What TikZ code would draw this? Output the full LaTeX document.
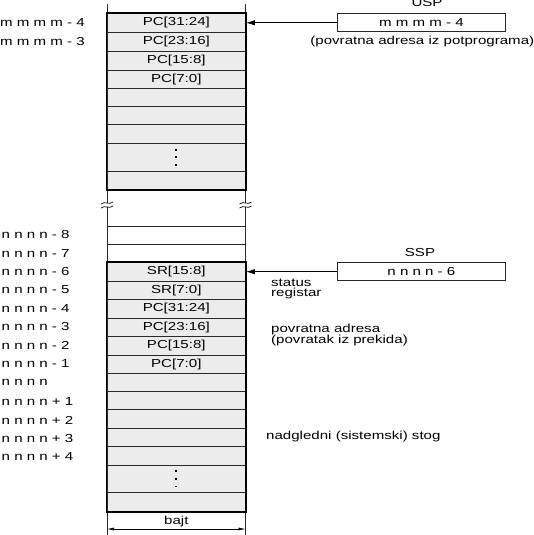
\documentclass[tikz,border=0pt]{standalone}
\usepackage{fontspec}
\setmainfont{Liberation Sans}[FakeStretch=1.3]
\usetikzlibrary{arrows.meta}
\definecolor{cellgray}{RGB}{236,236,236}
\definecolor{linegray}{RGB}{40,40,40}
\tikzset{
  cell/.style={draw=linegray, fill=cellgray, line width=0.7pt, minimum width=138.6pt, inner sep=0pt, anchor=north},
  opencell/.style={draw=linegray, line width=0.6pt, minimum width=138.6pt, inner sep=0pt, anchor=north},
  stackborder/.style={draw=black, line width=1.6pt},
  guide/.style={draw=linegray, line width=0.8pt},
  regbox/.style={draw=linegray, line width=1pt, minimum width=168.7pt, minimum height=17.7pt, inner sep=0pt},
  lbl/.style={inner sep=0pt, anchor=west},
  txt/.style={inner sep=0pt},
  ptr/.style={draw=black, line width=0.8pt, -{Latex[length=9pt,width=5.5pt]}},
  dim/.style={draw=black, line width=0.6pt, {Latex[length=7pt,width=3pt]}-{Latex[length=7pt,width=3pt]}},
  dotmark/.style={fill=black, draw=none}
}
\usetikzlibrary{calc}
\newcommand{\cellnode}[5]{\node[#1, minimum height={#4pt-#3pt}] (#2) at (176.3,#3) {#5};}
\newcommand{\vdotsat}[1]{%
  \fill[dotmark] ($(#1.center)+(-0.9,-8.5)$) rectangle ++(1.8,1.8);
  \fill[dotmark] ($(#1.center)+(-0.9,-0.9)$) rectangle ++(1.8,1.8);
  \fill[dotmark] ($(#1.center)+(-0.9,6.7)$) rectangle ++(1.8,1.8);}
\begin{document}
\begin{tikzpicture}[x=1pt,y=-1pt, font=\fontsize{11.6}{13}\selectfont]
\useasboundingbox (0,0) rectangle (534,535);
% vertical guide lines
\draw[guide] (107,4) -- (107,203.2);
\draw[guide] (245.6,4) -- (245.6,203.2);
\draw[guide] (107,207.2) -- (107,535);
\draw[guide] (245.6,207.2) -- (245.6,535);
% break marks
\foreach \xx in {107,245.6}{
  \draw[line width=0.7pt] (\xx-6,204) .. controls (\xx-2,200.5) and (\xx+2,205.5) .. (\xx+6,202);
  \draw[line width=0.7pt] (\xx-6,208) .. controls (\xx-2,204.5) and (\xx+2,209.5) .. (\xx+6,206);
}
% upper stack
\cellnode{cell}{u1}{13}{32}{PC[31:24]}
\cellnode{cell}{u2}{32}{51}{PC[23:16]}
\cellnode{cell}{u3}{51}{70}{PC[15:8]}
\cellnode{cell}{u4}{70}{88}{PC[7:0]}
\cellnode{cell}{u5}{88}{106}{}
\cellnode{cell}{u6}{106}{124}{}
\cellnode{cell}{u7}{124}{143}{}
\cellnode{cell}{u8}{143}{171}{}
\cellnode{cell}{u9}{171}{189}{}
\vdotsat{u8}
\draw[stackborder] (u1.north west) rectangle (u9.south east);
% lower stack
\cellnode{opencell}{o1}{226}{244}{}
\cellnode{opencell}{o2}{244}{262}{}
\cellnode{cell}{s1}{262}{280.7}{SR[15:8]}
\cellnode{cell}{s2}{280.7}{299}{SR[7:0]}
\cellnode{cell}{s3}{299}{317.7}{PC[31:24]}
\cellnode{cell}{s4}{317.7}{336}{PC[23:16]}
\cellnode{cell}{s5}{336}{354.7}{PC[15:8]}
\cellnode{cell}{s6}{354.7}{372.7}{PC[7:0]}
\cellnode{cell}{s7}{372.7}{391}{}
\cellnode{cell}{s8}{391}{409}{}
\cellnode{cell}{s9}{409}{428}{}
\cellnode{cell}{s10}{428}{446}{}
\cellnode{cell}{s11}{446}{465}{}
\cellnode{cell}{s12}{465}{492}{}
\cellnode{cell}{s13}{492}{511}{}
\vdotsat{s12}
\draw[stackborder] (s1.north west) rectangle (s13.south east);
% left address labels
\node[lbl] (m4) at (0,23) {m m m m - 4};
\node[lbl] (m3) at (0,42) {m m m m - 3};
\node[lbl] (n8) at (1.5,235) {n n n n - 8};
\node[lbl] (n7) at (1.5,253.3) {n n n n - 7};
\node[lbl] (n6) at (1.5,271.7) {n n n n - 6};
\node[lbl] (n5) at (1.5,290) {n n n n - 5};
\node[lbl] (n4) at (1.5,308.3) {n n n n - 4};
\node[lbl] (n3) at (1.5,326.7) {n n n n - 3};
\node[lbl] (n2) at (1.5,345) {n n n n - 2};
\node[lbl] (n1) at (1.5,363.3) {n n n n - 1};
\node[lbl] (n0) at (1.5,382.5) {n n n n};
\node[lbl] (p1) at (1.5,401.7) {n n n n + 1};
\node[lbl] (p2) at (1.5,420) {n n n n + 2};
\node[lbl] (p3) at (1.5,438.3) {n n n n + 3};
\node[lbl] (p4) at (1.5,456.7) {n n n n + 4};
% USP
\node[txt] (usplbl) at (427,3) {USP};
\node[regbox] (usp) at (421.4,22.8) {m m m m - 4};
\node[txt] (uspnote) at (422.3,42) {(povratna adresa iz potprograma)};
\draw[ptr] (usp.west) -- (usp.west -| u1.east);
% SSP
\node[txt] (ssplbl) at (420,252.3) {SSP};
\node[regbox] (ssp) at (421.4,271.7) {n n n n - 6};
\draw[ptr] (ssp.west) -- (ssp.west -| s1.east);
% notes
\node[lbl] (st1) at (271,282.5) {status};
\node[lbl] (st2) at (271,293) {registar};
\node[lbl] (pa1) at (271,329.5) {povratna adresa};
\node[lbl] (pa2) at (271,340) {(povratak iz prekida)};
\node[lbl] (nad) at (266,436.5) {nadgledni (sistemski) stog};
% byte dimension
\coordinate (bl) at (107,529);
\coordinate (br) at (245.6,529);
\draw[dim] (bl) -- (br);
\node[txt] (bajt) at (176.3,521.5) {bajt};
\end{tikzpicture}
\end{document}
